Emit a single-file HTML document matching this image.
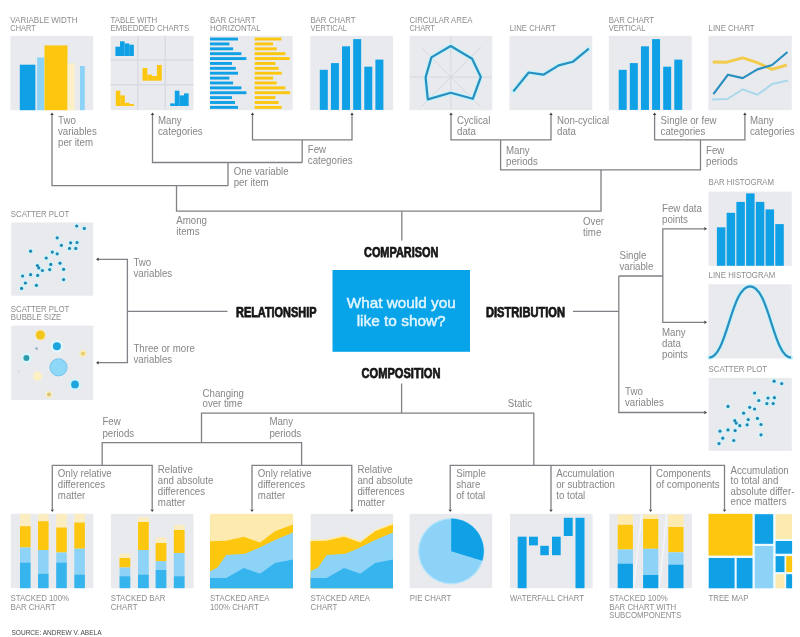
<!DOCTYPE html>
<html lang="en"><head><meta charset="utf-8"><title>Chart chooser</title>
<style>html,body{margin:0;padding:0;background:#fff;}svg{display:block;font-family:"Liberation Sans",sans-serif;filter:blur(0.45px);}</style>
</head><body>
<svg width="800" height="637" viewBox="0 0 800 637">
<rect width="800" height="637" fill="#ffffff"/>
<rect x="10.40" y="35.80" width="82.80" height="74.40" fill="#e9eaee" />
<rect x="110.70" y="35.80" width="82.80" height="74.40" fill="#e9eaee" />
<rect x="209.80" y="35.80" width="82.80" height="74.40" fill="#e9eaee" />
<rect x="310.30" y="35.80" width="82.80" height="74.40" fill="#e9eaee" />
<rect x="409.50" y="35.80" width="82.80" height="74.40" fill="#e9eaee" />
<rect x="509.50" y="35.80" width="82.80" height="74.40" fill="#e9eaee" />
<rect x="608.90" y="35.80" width="82.80" height="74.40" fill="#e9eaee" />
<rect x="708.40" y="35.80" width="83.40" height="74.40" fill="#e9eaee" />
<text x="10.3" y="23.00" font-size="8.8" fill="#8c8c8c" textLength="67.3" lengthAdjust="spacingAndGlyphs">VARIABLE WIDTH</text>
<text x="10.3" y="31.00" font-size="8.8" fill="#8c8c8c" textLength="25.5" lengthAdjust="spacingAndGlyphs">CHART</text>
<text x="110.6" y="23.00" font-size="8.8" fill="#8c8c8c" textLength="46.5" lengthAdjust="spacingAndGlyphs">TABLE WITH</text>
<text x="110.6" y="31.00" font-size="8.8" fill="#8c8c8c" textLength="78.5" lengthAdjust="spacingAndGlyphs">EMBEDDED CHARTS</text>
<text x="210.0" y="23.00" font-size="8.8" fill="#8c8c8c" textLength="45.5" lengthAdjust="spacingAndGlyphs">BAR CHART</text>
<text x="210.0" y="31.00" font-size="8.8" fill="#8c8c8c" textLength="50.7" lengthAdjust="spacingAndGlyphs">HORIZONTAL</text>
<text x="310.4" y="23.00" font-size="8.8" fill="#8c8c8c" textLength="45.2" lengthAdjust="spacingAndGlyphs">BAR CHART</text>
<text x="310.4" y="31.00" font-size="8.8" fill="#8c8c8c" textLength="36.5" lengthAdjust="spacingAndGlyphs">VERTICAL</text>
<text x="409.4" y="23.00" font-size="8.8" fill="#8c8c8c" textLength="63.0" lengthAdjust="spacingAndGlyphs">CIRCULAR AREA</text>
<text x="409.4" y="31.00" font-size="8.8" fill="#8c8c8c" textLength="25.5" lengthAdjust="spacingAndGlyphs">CHART</text>
<text x="509.8" y="31.00" font-size="8.8" fill="#8c8c8c" textLength="46.0" lengthAdjust="spacingAndGlyphs">LINE CHART</text>
<text x="608.8" y="23.00" font-size="8.8" fill="#8c8c8c" textLength="45.2" lengthAdjust="spacingAndGlyphs">BAR CHART</text>
<text x="608.8" y="31.00" font-size="8.8" fill="#8c8c8c" textLength="36.5" lengthAdjust="spacingAndGlyphs">VERTICAL</text>
<text x="708.6" y="31.00" font-size="8.8" fill="#8c8c8c" textLength="46.0" lengthAdjust="spacingAndGlyphs">LINE CHART</text>
<rect x="19.80" y="64.70" width="15.60" height="45.50" fill="#0fa0e6" />
<rect x="37.10" y="57.40" width="7.20" height="52.80" fill="#8dd3f7" />
<rect x="44.50" y="45.40" width="23.00" height="64.80" fill="#fdc70f" />
<rect x="67.70" y="63.40" width="7.00" height="46.80" fill="#fcf0c8" />
<rect x="80.00" y="66.00" width="4.80" height="44.20" fill="#8dd3f7" />
<rect x="137.20" y="35.80" width="1.20" height="74.40" fill="#d6d8e2" />
<rect x="164.60" y="35.80" width="1.20" height="74.40" fill="#d6d8e2" />
<rect x="110.70" y="59.40" width="82.80" height="1.20" fill="#d6d8e2" />
<rect x="110.70" y="84.10" width="82.80" height="1.20" fill="#d6d8e2" />
<rect x="115.40" y="46.70" width="4.65" height="9.30" fill="#0fa0e6" />
<rect x="120.00" y="41.30" width="4.65" height="14.70" fill="#0fa0e6" />
<rect x="124.60" y="43.40" width="4.65" height="12.60" fill="#0fa0e6" />
<rect x="129.20" y="44.70" width="4.65" height="11.30" fill="#0fa0e6" />
<rect x="142.50" y="68.00" width="4.85" height="12.70" fill="#fdc70f" />
<rect x="147.30" y="74.60" width="4.85" height="6.10" fill="#fdc70f" />
<rect x="152.10" y="76.00" width="4.85" height="4.70" fill="#fdc70f" />
<rect x="156.90" y="65.00" width="4.85" height="15.70" fill="#fdc70f" />
<rect x="115.80" y="90.70" width="4.55" height="15.30" fill="#fdc70f" />
<rect x="120.30" y="95.40" width="4.55" height="10.60" fill="#fdc70f" />
<rect x="124.80" y="102.80" width="4.55" height="3.20" fill="#fdc70f" />
<rect x="129.30" y="104.00" width="4.55" height="2.00" fill="#fdc70f" />
<rect x="170.20" y="103.40" width="4.65" height="2.60" fill="#0fa0e6" />
<rect x="174.80" y="90.70" width="4.65" height="15.30" fill="#0fa0e6" />
<rect x="179.40" y="95.40" width="4.65" height="10.60" fill="#0fa0e6" />
<rect x="184.00" y="93.40" width="4.65" height="12.60" fill="#0fa0e6" />
<rect x="210.00" y="37.60" width="28.00" height="2.90" fill="#0fa0e6" />
<rect x="254.70" y="37.60" width="26.70" height="2.90" fill="#fdc70f" />
<rect x="210.00" y="42.48" width="19.40" height="2.90" fill="#0fa0e6" />
<rect x="254.70" y="42.48" width="18.40" height="2.90" fill="#fdc70f" />
<rect x="210.00" y="47.36" width="23.10" height="2.90" fill="#0fa0e6" />
<rect x="254.70" y="47.36" width="22.00" height="2.90" fill="#fdc70f" />
<rect x="210.00" y="52.24" width="31.40" height="2.90" fill="#0fa0e6" />
<rect x="254.70" y="52.24" width="30.70" height="2.90" fill="#fdc70f" />
<rect x="210.00" y="57.12" width="36.40" height="2.90" fill="#0fa0e6" />
<rect x="254.70" y="57.12" width="35.00" height="2.90" fill="#fdc70f" />
<rect x="210.00" y="62.00" width="22.00" height="2.90" fill="#0fa0e6" />
<rect x="254.70" y="62.00" width="20.70" height="2.90" fill="#fdc70f" />
<rect x="210.00" y="66.88" width="25.80" height="2.90" fill="#0fa0e6" />
<rect x="254.70" y="66.88" width="24.00" height="2.90" fill="#fdc70f" />
<rect x="210.00" y="71.76" width="28.00" height="2.90" fill="#0fa0e6" />
<rect x="254.70" y="71.76" width="27.00" height="2.90" fill="#fdc70f" />
<rect x="210.00" y="76.64" width="19.40" height="2.90" fill="#0fa0e6" />
<rect x="254.70" y="76.64" width="18.40" height="2.90" fill="#fdc70f" />
<rect x="210.00" y="81.52" width="23.10" height="2.90" fill="#0fa0e6" />
<rect x="254.70" y="81.52" width="22.00" height="2.90" fill="#fdc70f" />
<rect x="210.00" y="86.40" width="31.40" height="2.90" fill="#0fa0e6" />
<rect x="254.70" y="86.40" width="30.70" height="2.90" fill="#fdc70f" />
<rect x="210.00" y="91.28" width="36.40" height="2.90" fill="#0fa0e6" />
<rect x="254.70" y="91.28" width="35.40" height="2.90" fill="#fdc70f" />
<rect x="210.00" y="96.16" width="22.00" height="2.90" fill="#0fa0e6" />
<rect x="254.70" y="96.16" width="20.70" height="2.90" fill="#fdc70f" />
<rect x="210.00" y="101.04" width="25.00" height="2.90" fill="#0fa0e6" />
<rect x="254.70" y="101.04" width="24.00" height="2.90" fill="#fdc70f" />
<rect x="210.00" y="105.92" width="28.00" height="2.90" fill="#0fa0e6" />
<rect x="254.70" y="105.92" width="27.00" height="2.90" fill="#fdc70f" />
<rect x="319.80" y="69.80" width="8.00" height="40.10" fill="#0fa0e6" />
<rect x="330.92" y="63.10" width="8.00" height="46.80" fill="#0fa0e6" />
<rect x="342.04" y="46.30" width="8.00" height="63.60" fill="#0fa0e6" />
<rect x="353.16" y="39.10" width="8.00" height="70.80" fill="#0fa0e6" />
<rect x="364.28" y="66.70" width="8.00" height="43.20" fill="#0fa0e6" />
<rect x="375.40" y="59.60" width="8.00" height="50.30" fill="#0fa0e6" />
<rect x="618.70" y="69.80" width="8.00" height="40.10" fill="#0fa0e6" />
<rect x="629.82" y="63.10" width="8.00" height="46.80" fill="#0fa0e6" />
<rect x="640.94" y="46.30" width="8.00" height="63.60" fill="#0fa0e6" />
<rect x="652.06" y="39.10" width="8.00" height="70.80" fill="#0fa0e6" />
<rect x="663.18" y="66.70" width="8.00" height="43.20" fill="#0fa0e6" />
<rect x="674.30" y="59.60" width="8.00" height="50.30" fill="#0fa0e6" />
<path d="M409.8 77.1H491.8M450.8 36.099999999999994V110.1" stroke="#d2d3db" stroke-width="0.8" fill="none" />
<path d="M420.8 47.099999999999994L480.8 107.1M480.8 47.099999999999994L420.8 107.1" stroke="#d2d3db" stroke-width="0.8" fill="none" />
<path d="M450.7 46 L472.1 58.7 L480.8 77 L472.8 98.8 L450.7 92.8 L427.8 99.4 L425.6 77.4 L431.4 57.4 Z" stroke="#c2f3fc" stroke-width="4.4" fill="none" stroke-linejoin="round" stroke-linecap="round"/>
<path d="M450.7 46 L472.1 58.7 L480.8 77 L472.8 98.8 L450.7 92.8 L427.8 99.4 L425.6 77.4 L431.4 57.4 Z" stroke="#288fbf" stroke-width="2.2" fill="none" stroke-linejoin="round"/>
<path d="M513.4 91.4 L528.7 72.5 L543.4 74.7 L558.7 65.4 L572.8 61.8 L588.8 48.7" stroke="#c2f3fc" stroke-width="4.4" fill="none" stroke-linejoin="round" stroke-linecap="round"/>
<path d="M513.4 91.4 L528.7 72.5 L543.4 74.7 L558.7 65.4 L572.8 61.8 L588.8 48.7" stroke="#288fbf" stroke-width="2.2" fill="none" stroke-linejoin="round"/>
<path d="M712 99.4 L727.4 99.0 L742.7 89.4 L757.4 94.8 L772.1 84.1 L788.1 80.5" stroke="#aad8ec" stroke-width="2.0" fill="none" stroke-linejoin="round"/>
<path d="M712.7 62 L726.7 62.2 L742.7 57.8 L757.4 62.7 L772.1 69.4 L786.8 65" stroke="#f3cb4a" stroke-width="2.9" fill="none" stroke-linejoin="round"/>
<path d="M713.4 94.1 L728 74.7 L742.7 78.1 L757.4 69.4 L772.1 65 L787.5 52" stroke="#288fbf" stroke-width="2.2" fill="none" stroke-linejoin="round"/>
<path d="M52 115.0V185.7H228" stroke="#808086" stroke-width="1.3" fill="none" />
<path d="M152.5 115.0V162.5H302.2" stroke="#808086" stroke-width="1.3" fill="none" />
<path d="M252.5 115.0V139.9H352V115.0" stroke="#808086" stroke-width="1.3" fill="none" />
<path d="M302.2 139.9V162.5" stroke="#808086" stroke-width="1.3" fill="none" />
<path d="M228 162.5V185.7" stroke="#808086" stroke-width="1.3" fill="none" />
<path d="M176.5 185.7V211.2H601V169.8" stroke="#808086" stroke-width="1.3" fill="none" />
<path d="M451 115.0V139.9H551V115.0" stroke="#808086" stroke-width="1.3" fill="none" />
<path d="M500.6 139.9V169.8H700.5V139.9" stroke="#808086" stroke-width="1.3" fill="none" />
<path d="M654.6 115.0V139.9H744.9V115.0" stroke="#808086" stroke-width="1.3" fill="none" />
<path d="M401.8 211.2V240.5" stroke="#808086" stroke-width="1.3" fill="none" />
<path d="M50.30 115.10 L52.00 112.40 L53.70 115.10 Z" fill="#3a3a3a"/>
<path d="M150.80 115.10 L152.50 112.40 L154.20 115.10 Z" fill="#3a3a3a"/>
<path d="M250.80 115.10 L252.50 112.40 L254.20 115.10 Z" fill="#3a3a3a"/>
<path d="M350.30 115.10 L352.00 112.40 L353.70 115.10 Z" fill="#3a3a3a"/>
<path d="M449.30 115.10 L451.00 112.40 L452.70 115.10 Z" fill="#3a3a3a"/>
<path d="M549.30 115.10 L551.00 112.40 L552.70 115.10 Z" fill="#3a3a3a"/>
<path d="M652.90 115.10 L654.60 112.40 L656.30 115.10 Z" fill="#3a3a3a"/>
<path d="M743.20 115.10 L744.90 112.40 L746.60 115.10 Z" fill="#3a3a3a"/>
<text x="58" y="123.90" font-size="10.2" fill="#868686" textLength="17.8" lengthAdjust="spacingAndGlyphs">Two</text>
<text x="58" y="134.80" font-size="10.2" fill="#868686" textLength="38.8" lengthAdjust="spacingAndGlyphs">variables</text>
<text x="58" y="145.70" font-size="10.2" fill="#868686" textLength="35.0" lengthAdjust="spacingAndGlyphs">per item</text>
<text x="158" y="123.90" font-size="10.2" fill="#868686" textLength="23.7" lengthAdjust="spacingAndGlyphs">Many</text>
<text x="158" y="134.80" font-size="10.2" fill="#868686" textLength="44.7" lengthAdjust="spacingAndGlyphs">categories</text>
<text x="307.8" y="153.40" font-size="10.2" fill="#868686" textLength="18.3" lengthAdjust="spacingAndGlyphs">Few</text>
<text x="307.8" y="164.30" font-size="10.2" fill="#868686" textLength="44.7" lengthAdjust="spacingAndGlyphs">categories</text>
<text x="233.7" y="175.00" font-size="10.2" fill="#868686" textLength="54.9" lengthAdjust="spacingAndGlyphs">One variable</text>
<text x="233.7" y="185.90" font-size="10.2" fill="#868686" textLength="35.0" lengthAdjust="spacingAndGlyphs">per item</text>
<text x="176.3" y="224.00" font-size="10.2" fill="#868686" textLength="30.7" lengthAdjust="spacingAndGlyphs">Among</text>
<text x="176.3" y="234.90" font-size="10.2" fill="#868686" textLength="23.2" lengthAdjust="spacingAndGlyphs">items</text>
<text x="457" y="124.20" font-size="10.2" fill="#868686" textLength="33.4" lengthAdjust="spacingAndGlyphs">Cyclical</text>
<text x="457" y="135.10" font-size="10.2" fill="#868686" textLength="18.9" lengthAdjust="spacingAndGlyphs">data</text>
<text x="557" y="124.20" font-size="10.2" fill="#868686" textLength="52.2" lengthAdjust="spacingAndGlyphs">Non-cyclical</text>
<text x="557" y="135.10" font-size="10.2" fill="#868686" textLength="18.9" lengthAdjust="spacingAndGlyphs">data</text>
<text x="506" y="153.70" font-size="10.2" fill="#868686" textLength="23.7" lengthAdjust="spacingAndGlyphs">Many</text>
<text x="506" y="164.60" font-size="10.2" fill="#868686" textLength="31.8" lengthAdjust="spacingAndGlyphs">periods</text>
<text x="583" y="224.60" font-size="10.2" fill="#868686" textLength="21.0" lengthAdjust="spacingAndGlyphs">Over</text>
<text x="583" y="235.50" font-size="10.2" fill="#868686" textLength="18.3" lengthAdjust="spacingAndGlyphs">time</text>
<text x="660.6" y="124.20" font-size="10.2" fill="#868686" textLength="56.0" lengthAdjust="spacingAndGlyphs">Single or few</text>
<text x="660.6" y="135.10" font-size="10.2" fill="#868686" textLength="44.7" lengthAdjust="spacingAndGlyphs">categories</text>
<text x="750" y="124.20" font-size="10.2" fill="#868686" textLength="23.7" lengthAdjust="spacingAndGlyphs">Many</text>
<text x="750" y="135.10" font-size="10.2" fill="#868686" textLength="44.7" lengthAdjust="spacingAndGlyphs">categories</text>
<text x="706" y="153.80" font-size="10.2" fill="#868686" textLength="18.3" lengthAdjust="spacingAndGlyphs">Few</text>
<text x="706" y="164.70" font-size="10.2" fill="#868686" textLength="31.8" lengthAdjust="spacingAndGlyphs">periods</text>
<rect x="332.50" y="270.00" width="137.50" height="81.80" fill="#08a4e9" />
<text x="401.2" y="308" font-size="15" fill="#e2f5ff" stroke="#e2f5ff" stroke-width="0.45" text-anchor="middle" textLength="109" lengthAdjust="spacingAndGlyphs">What would you</text>
<text x="401.2" y="326" font-size="15" fill="#e2f5ff" stroke="#e2f5ff" stroke-width="0.45" text-anchor="middle" textLength="89" lengthAdjust="spacingAndGlyphs">like to show?</text>
<text x="364.0" y="257.3" font-size="13.8" font-weight="bold" fill="#161616" stroke="#161616" stroke-width="0.75" textLength="74.4" lengthAdjust="spacingAndGlyphs">COMPARISON</text>
<text x="236" y="316.8" font-size="13.8" font-weight="bold" fill="#161616" stroke="#161616" stroke-width="0.75" textLength="80.5" lengthAdjust="spacingAndGlyphs">RELATIONSHIP</text>
<text x="486" y="316.6" font-size="13.8" font-weight="bold" fill="#161616" stroke="#161616" stroke-width="0.75" textLength="79" lengthAdjust="spacingAndGlyphs">DISTRIBUTION</text>
<text x="361.5" y="377.7" font-size="13.8" font-weight="bold" fill="#161616" stroke="#161616" stroke-width="0.75" textLength="79" lengthAdjust="spacingAndGlyphs">COMPOSITION</text>
<text x="10.8" y="217.30" font-size="8.8" fill="#8c8c8c" textLength="58.5" lengthAdjust="spacingAndGlyphs">SCATTER PLOT</text>
<rect x="11.20" y="222.50" width="82.00" height="73.20" fill="#e9eaee" />
<circle cx="76.7" cy="226.0" r="2.9" fill="#d0f3fa"/>
<circle cx="84.3" cy="228.4" r="2.9" fill="#d0f3fa"/>
<circle cx="57.2" cy="237.8" r="2.9" fill="#d0f3fa"/>
<circle cx="70.6" cy="242.8" r="2.9" fill="#d0f3fa"/>
<circle cx="77.0" cy="242.5" r="2.9" fill="#d0f3fa"/>
<circle cx="61.4" cy="245.3" r="2.9" fill="#d0f3fa"/>
<circle cx="69.5" cy="248.4" r="2.9" fill="#d0f3fa"/>
<circle cx="75.8" cy="248.4" r="2.9" fill="#d0f3fa"/>
<circle cx="30.6" cy="251.2" r="2.9" fill="#d0f3fa"/>
<circle cx="52.3" cy="252.1" r="2.9" fill="#d0f3fa"/>
<circle cx="57.2" cy="253.8" r="2.9" fill="#d0f3fa"/>
<circle cx="46.2" cy="258.0" r="2.9" fill="#d0f3fa"/>
<circle cx="60.0" cy="263.2" r="2.9" fill="#d0f3fa"/>
<circle cx="50.8" cy="264.4" r="2.9" fill="#d0f3fa"/>
<circle cx="37.4" cy="265.5" r="2.9" fill="#d0f3fa"/>
<circle cx="38.8" cy="267.9" r="2.9" fill="#d0f3fa"/>
<circle cx="42.4" cy="270.5" r="2.9" fill="#d0f3fa"/>
<circle cx="49.7" cy="269.6" r="2.9" fill="#d0f3fa"/>
<circle cx="63.6" cy="269.3" r="2.9" fill="#d0f3fa"/>
<circle cx="30.6" cy="274.7" r="2.9" fill="#d0f3fa"/>
<circle cx="37.7" cy="275.4" r="2.9" fill="#d0f3fa"/>
<circle cx="22.6" cy="276.0" r="2.9" fill="#d0f3fa"/>
<circle cx="63.6" cy="279.6" r="2.9" fill="#d0f3fa"/>
<circle cx="25.4" cy="283.0" r="2.9" fill="#d0f3fa"/>
<circle cx="36.4" cy="285.3" r="2.9" fill="#d0f3fa"/>
<circle cx="21.6" cy="288.4" r="2.9" fill="#d0f3fa"/>
<circle cx="76.7" cy="226.0" r="1.6" fill="#2086b0"/>
<circle cx="84.3" cy="228.4" r="1.6" fill="#2086b0"/>
<circle cx="57.2" cy="237.8" r="1.6" fill="#2086b0"/>
<circle cx="70.6" cy="242.8" r="1.6" fill="#2086b0"/>
<circle cx="77.0" cy="242.5" r="1.6" fill="#2086b0"/>
<circle cx="61.4" cy="245.3" r="1.6" fill="#2086b0"/>
<circle cx="69.5" cy="248.4" r="1.6" fill="#2086b0"/>
<circle cx="75.8" cy="248.4" r="1.6" fill="#2086b0"/>
<circle cx="30.6" cy="251.2" r="1.6" fill="#2086b0"/>
<circle cx="52.3" cy="252.1" r="1.6" fill="#2086b0"/>
<circle cx="57.2" cy="253.8" r="1.6" fill="#2086b0"/>
<circle cx="46.2" cy="258.0" r="1.6" fill="#2086b0"/>
<circle cx="60.0" cy="263.2" r="1.6" fill="#2086b0"/>
<circle cx="50.8" cy="264.4" r="1.6" fill="#2086b0"/>
<circle cx="37.4" cy="265.5" r="1.6" fill="#2086b0"/>
<circle cx="38.8" cy="267.9" r="1.6" fill="#2086b0"/>
<circle cx="42.4" cy="270.5" r="1.6" fill="#2086b0"/>
<circle cx="49.7" cy="269.6" r="1.6" fill="#2086b0"/>
<circle cx="63.6" cy="269.3" r="1.6" fill="#2086b0"/>
<circle cx="30.6" cy="274.7" r="1.6" fill="#2086b0"/>
<circle cx="37.7" cy="275.4" r="1.6" fill="#2086b0"/>
<circle cx="22.6" cy="276.0" r="1.6" fill="#2086b0"/>
<circle cx="63.6" cy="279.6" r="1.6" fill="#2086b0"/>
<circle cx="25.4" cy="283.0" r="1.6" fill="#2086b0"/>
<circle cx="36.4" cy="285.3" r="1.6" fill="#2086b0"/>
<circle cx="21.6" cy="288.4" r="1.6" fill="#2086b0"/>
<text x="10.8" y="311.60" font-size="8.8" fill="#8c8c8c" textLength="58.5" lengthAdjust="spacingAndGlyphs">SCATTER PLOT</text>
<text x="10.8" y="320.20" font-size="8.8" fill="#8c8c8c" textLength="50.4" lengthAdjust="spacingAndGlyphs">BUBBLE SIZE</text>
<rect x="11.20" y="325.60" width="82.00" height="74.40" fill="#e9eaee" />
<circle cx="40.4" cy="335" r="5.6" fill="#fdeaae"/>
<circle cx="40.4" cy="335" r="4.5" fill="#f2c51c"/>
<circle cx="56.9" cy="346.2" r="6.4" fill="#e2f7fe"/>
<circle cx="56.9" cy="346.2" r="4.0" fill="#1fa5de"/>
<circle cx="36.6" cy="348.6" r="1.4" fill="#8cb4cc"/>
<circle cx="26.4" cy="358" r="5.4" fill="#d9f5fb"/>
<circle cx="26.4" cy="358" r="3.0" fill="#2f9cae"/>
<circle cx="83" cy="353.6" r="3.5" fill="#fdeaae"/>
<circle cx="83" cy="353.6" r="1.9" fill="#e3cc74"/>
<circle cx="58.5" cy="367.3" r="8.6" fill="#8fd7f7" stroke="#74c6ee" stroke-width="1"/>
<circle cx="37.6" cy="376.2" r="4.6" fill="#fbefc4"/>
<circle cx="18.6" cy="371.4" r="1.4" fill="#dcdde6"/>
<circle cx="75" cy="384.4" r="6.0" fill="#d4f4fd"/>
<circle cx="75" cy="384.4" r="3.9" fill="#1fa5de"/>
<circle cx="49" cy="394.5" r="3.6" fill="#fbeec0"/>
<circle cx="49" cy="394.5" r="2.0" fill="#d8c178"/>
<path d="M98.5 259.3H127.4V362.7H98.5" stroke="#808086" stroke-width="1.3" fill="none" />
<path d="M127.4 311.4H227.5" stroke="#808086" stroke-width="1.3" fill="none" />
<path d="M98.70 257.60 L96.00 259.30 L98.70 261.00 Z" fill="#3a3a3a"/>
<path d="M98.70 361.00 L96.00 362.70 L98.70 364.40 Z" fill="#3a3a3a"/>
<text x="133.4" y="266.00" font-size="10.2" fill="#868686" textLength="17.8" lengthAdjust="spacingAndGlyphs">Two</text>
<text x="133.4" y="276.90" font-size="10.2" fill="#868686" textLength="38.8" lengthAdjust="spacingAndGlyphs">variables</text>
<text x="133.4" y="351.60" font-size="10.2" fill="#868686" textLength="61.4" lengthAdjust="spacingAndGlyphs">Three or more</text>
<text x="133.4" y="362.50" font-size="10.2" fill="#868686" textLength="38.8" lengthAdjust="spacingAndGlyphs">variables</text>
<text x="708.6" y="185.20" font-size="8.8" fill="#8c8c8c" textLength="65.4" lengthAdjust="spacingAndGlyphs">BAR HISTOGRAM</text>
<rect x="708.50" y="191.60" width="83.20" height="74.30" fill="#e9eaee" />
<rect x="716.90" y="227.30" width="8.50" height="38.50" fill="#0fa0e6" />
<rect x="726.63" y="212.80" width="8.50" height="53.00" fill="#0fa0e6" />
<rect x="736.36" y="201.90" width="8.50" height="63.90" fill="#0fa0e6" />
<rect x="746.09" y="193.40" width="8.50" height="72.40" fill="#0fa0e6" />
<rect x="755.82" y="201.90" width="8.50" height="63.90" fill="#0fa0e6" />
<rect x="765.55" y="209.40" width="8.50" height="56.40" fill="#0fa0e6" />
<rect x="775.28" y="224.10" width="8.50" height="41.70" fill="#0fa0e6" />
<text x="708.6" y="278.30" font-size="8.8" fill="#8c8c8c" textLength="66.7" lengthAdjust="spacingAndGlyphs">LINE HISTOGRAM</text>
<rect x="708.50" y="284.30" width="83.20" height="74.20" fill="#e9eaee" />
<path d="M709.2 357.6 C 727 357.6, 731 286.3, 750.1 286.3 C 769.2 286.3, 773.2 357.6, 791.1 357.6" stroke="#c2f3fc" stroke-width="4.4" fill="none" stroke-linejoin="round" stroke-linecap="round"/>
<path d="M709.2 357.6 C 727 357.6, 731 286.3, 750.1 286.3 C 769.2 286.3, 773.2 357.6, 791.1 357.6" stroke="#288fbf" stroke-width="2.2" fill="none" stroke-linejoin="round"/>
<text x="708.6" y="372.20" font-size="8.8" fill="#8c8c8c" textLength="58.5" lengthAdjust="spacingAndGlyphs">SCATTER PLOT</text>
<rect x="708.60" y="377.80" width="83.20" height="73.00" fill="#e9eaee" />
<circle cx="774.1" cy="381.2" r="2.9" fill="#d0f3fa"/>
<circle cx="781.7" cy="383.6" r="2.9" fill="#d0f3fa"/>
<circle cx="754.6" cy="393.0" r="2.9" fill="#d0f3fa"/>
<circle cx="768.0" cy="398.0" r="2.9" fill="#d0f3fa"/>
<circle cx="774.4" cy="397.7" r="2.9" fill="#d0f3fa"/>
<circle cx="758.8" cy="400.5" r="2.9" fill="#d0f3fa"/>
<circle cx="766.9" cy="403.6" r="2.9" fill="#d0f3fa"/>
<circle cx="773.2" cy="403.6" r="2.9" fill="#d0f3fa"/>
<circle cx="728.0" cy="406.4" r="2.9" fill="#d0f3fa"/>
<circle cx="749.7" cy="407.3" r="2.9" fill="#d0f3fa"/>
<circle cx="754.6" cy="409.0" r="2.9" fill="#d0f3fa"/>
<circle cx="743.6" cy="413.2" r="2.9" fill="#d0f3fa"/>
<circle cx="757.4" cy="418.4" r="2.9" fill="#d0f3fa"/>
<circle cx="748.2" cy="419.6" r="2.9" fill="#d0f3fa"/>
<circle cx="734.8" cy="420.7" r="2.9" fill="#d0f3fa"/>
<circle cx="736.2" cy="423.1" r="2.9" fill="#d0f3fa"/>
<circle cx="739.8" cy="425.7" r="2.9" fill="#d0f3fa"/>
<circle cx="747.1" cy="424.8" r="2.9" fill="#d0f3fa"/>
<circle cx="761.0" cy="424.5" r="2.9" fill="#d0f3fa"/>
<circle cx="728.0" cy="429.9" r="2.9" fill="#d0f3fa"/>
<circle cx="735.1" cy="430.6" r="2.9" fill="#d0f3fa"/>
<circle cx="720.0" cy="431.2" r="2.9" fill="#d0f3fa"/>
<circle cx="761.0" cy="434.8" r="2.9" fill="#d0f3fa"/>
<circle cx="722.8" cy="438.2" r="2.9" fill="#d0f3fa"/>
<circle cx="733.8" cy="440.5" r="2.9" fill="#d0f3fa"/>
<circle cx="719.0" cy="443.6" r="2.9" fill="#d0f3fa"/>
<circle cx="774.1" cy="381.2" r="1.6" fill="#2086b0"/>
<circle cx="781.7" cy="383.6" r="1.6" fill="#2086b0"/>
<circle cx="754.6" cy="393.0" r="1.6" fill="#2086b0"/>
<circle cx="768.0" cy="398.0" r="1.6" fill="#2086b0"/>
<circle cx="774.4" cy="397.7" r="1.6" fill="#2086b0"/>
<circle cx="758.8" cy="400.5" r="1.6" fill="#2086b0"/>
<circle cx="766.9" cy="403.6" r="1.6" fill="#2086b0"/>
<circle cx="773.2" cy="403.6" r="1.6" fill="#2086b0"/>
<circle cx="728.0" cy="406.4" r="1.6" fill="#2086b0"/>
<circle cx="749.7" cy="407.3" r="1.6" fill="#2086b0"/>
<circle cx="754.6" cy="409.0" r="1.6" fill="#2086b0"/>
<circle cx="743.6" cy="413.2" r="1.6" fill="#2086b0"/>
<circle cx="757.4" cy="418.4" r="1.6" fill="#2086b0"/>
<circle cx="748.2" cy="419.6" r="1.6" fill="#2086b0"/>
<circle cx="734.8" cy="420.7" r="1.6" fill="#2086b0"/>
<circle cx="736.2" cy="423.1" r="1.6" fill="#2086b0"/>
<circle cx="739.8" cy="425.7" r="1.6" fill="#2086b0"/>
<circle cx="747.1" cy="424.8" r="1.6" fill="#2086b0"/>
<circle cx="761.0" cy="424.5" r="1.6" fill="#2086b0"/>
<circle cx="728.0" cy="429.9" r="1.6" fill="#2086b0"/>
<circle cx="735.1" cy="430.6" r="1.6" fill="#2086b0"/>
<circle cx="720.0" cy="431.2" r="1.6" fill="#2086b0"/>
<circle cx="761.0" cy="434.8" r="1.6" fill="#2086b0"/>
<circle cx="722.8" cy="438.2" r="1.6" fill="#2086b0"/>
<circle cx="733.8" cy="440.5" r="1.6" fill="#2086b0"/>
<circle cx="719.0" cy="443.6" r="1.6" fill="#2086b0"/>
<path d="M573 311.4H618.8" stroke="#808086" stroke-width="1.3" fill="none" />
<path d="M618.8 276H662.8" stroke="#808086" stroke-width="1.3" fill="none" />
<path d="M618.8 276V412.5H704" stroke="#808086" stroke-width="1.3" fill="none" />
<path d="M704 228.8H662.8V322.3H704" stroke="#808086" stroke-width="1.3" fill="none" />
<path d="M704.30 227.10 L707.00 228.80 L704.30 230.50 Z" fill="#3a3a3a"/>
<path d="M704.30 320.60 L707.00 322.30 L704.30 324.00 Z" fill="#3a3a3a"/>
<path d="M704.30 410.80 L707.00 412.50 L704.30 414.20 Z" fill="#3a3a3a"/>
<text x="662" y="211.60" font-size="10.2" fill="#868686" textLength="39.9" lengthAdjust="spacingAndGlyphs">Few data</text>
<text x="662" y="222.50" font-size="10.2" fill="#868686" textLength="25.9" lengthAdjust="spacingAndGlyphs">points</text>
<text x="619.5" y="258.90" font-size="10.2" fill="#868686" textLength="26.9" lengthAdjust="spacingAndGlyphs">Single</text>
<text x="619.5" y="269.80" font-size="10.2" fill="#868686" textLength="33.9" lengthAdjust="spacingAndGlyphs">variable</text>
<text x="662" y="336.40" font-size="10.2" fill="#868686" textLength="23.7" lengthAdjust="spacingAndGlyphs">Many</text>
<text x="662" y="347.30" font-size="10.2" fill="#868686" textLength="18.9" lengthAdjust="spacingAndGlyphs">data</text>
<text x="662" y="358.20" font-size="10.2" fill="#868686" textLength="25.9" lengthAdjust="spacingAndGlyphs">points</text>
<text x="625" y="394.60" font-size="10.2" fill="#868686" textLength="17.8" lengthAdjust="spacingAndGlyphs">Two</text>
<text x="625" y="406.00" font-size="10.2" fill="#868686" textLength="38.8" lengthAdjust="spacingAndGlyphs">variables</text>
<path d="M401.6 383.5V413.2" stroke="#808086" stroke-width="1.3" fill="none" />
<path d="M201.5 442.6V413.2H533.8V465.3" stroke="#808086" stroke-width="1.3" fill="none" />
<path d="M102.2 465.3V442.6H301.6V465.3" stroke="#808086" stroke-width="1.3" fill="none" />
<path d="M52.3 509.0V465.3H152.2V509.0" stroke="#808086" stroke-width="1.3" fill="none" />
<path d="M252.0 509.0V465.3H351.8V509.0" stroke="#808086" stroke-width="1.3" fill="none" />
<path d="M450.2 509.0V465.3H724.5V509.0" stroke="#808086" stroke-width="1.3" fill="none" />
<path d="M551 465.3V509.0M650.6 465.3V509.0" stroke="#808086" stroke-width="1.3" fill="none" />
<path d="M50.60 509.40 L52.30 512.10 L54.00 509.40 Z" fill="#3a3a3a"/>
<path d="M150.50 509.40 L152.20 512.10 L153.90 509.40 Z" fill="#3a3a3a"/>
<path d="M250.30 509.40 L252.00 512.10 L253.70 509.40 Z" fill="#3a3a3a"/>
<path d="M350.10 509.40 L351.80 512.10 L353.50 509.40 Z" fill="#3a3a3a"/>
<path d="M448.50 509.40 L450.20 512.10 L451.90 509.40 Z" fill="#3a3a3a"/>
<path d="M549.30 509.40 L551.00 512.10 L552.70 509.40 Z" fill="#3a3a3a"/>
<path d="M648.90 509.40 L650.60 512.10 L652.30 509.40 Z" fill="#3a3a3a"/>
<path d="M722.80 509.40 L724.50 512.10 L726.20 509.40 Z" fill="#3a3a3a"/>
<text x="202.5" y="396.80" font-size="10.2" fill="#868686" textLength="41.5" lengthAdjust="spacingAndGlyphs">Changing</text>
<text x="202.5" y="407.10" font-size="10.2" fill="#868686" textLength="39.8" lengthAdjust="spacingAndGlyphs">over time</text>
<text x="507.8" y="406.60" font-size="10.2" fill="#868686" textLength="24.2" lengthAdjust="spacingAndGlyphs">Static</text>
<text x="102.4" y="425.30" font-size="10.2" fill="#868686" textLength="18.3" lengthAdjust="spacingAndGlyphs">Few</text>
<text x="102.4" y="436.50" font-size="10.2" fill="#868686" textLength="31.8" lengthAdjust="spacingAndGlyphs">periods</text>
<text x="269.4" y="425.30" font-size="10.2" fill="#868686" textLength="23.7" lengthAdjust="spacingAndGlyphs">Many</text>
<text x="269.4" y="436.50" font-size="10.2" fill="#868686" textLength="31.8" lengthAdjust="spacingAndGlyphs">periods</text>
<text x="57.8" y="477.40" font-size="10.2" fill="#868686" textLength="53.9" lengthAdjust="spacingAndGlyphs">Only relative</text>
<text x="57.8" y="488.40" font-size="10.2" fill="#868686" textLength="47.2" lengthAdjust="spacingAndGlyphs">differences</text>
<text x="57.8" y="499.40" font-size="10.2" fill="#868686" textLength="27.5" lengthAdjust="spacingAndGlyphs">matter</text>
<text x="157.8" y="473.00" font-size="10.2" fill="#868686" textLength="35.0" lengthAdjust="spacingAndGlyphs">Relative</text>
<text x="157.8" y="484.10" font-size="10.2" fill="#868686" textLength="55.5" lengthAdjust="spacingAndGlyphs">and absolute</text>
<text x="157.8" y="495.20" font-size="10.2" fill="#868686" textLength="47.2" lengthAdjust="spacingAndGlyphs">differences</text>
<text x="157.8" y="506.30" font-size="10.2" fill="#868686" textLength="27.5" lengthAdjust="spacingAndGlyphs">matter</text>
<text x="257.8" y="477.40" font-size="10.2" fill="#868686" textLength="53.9" lengthAdjust="spacingAndGlyphs">Only relative</text>
<text x="257.8" y="488.40" font-size="10.2" fill="#868686" textLength="47.2" lengthAdjust="spacingAndGlyphs">differences</text>
<text x="257.8" y="499.40" font-size="10.2" fill="#868686" textLength="27.5" lengthAdjust="spacingAndGlyphs">matter</text>
<text x="357.4" y="473.00" font-size="10.2" fill="#868686" textLength="35.0" lengthAdjust="spacingAndGlyphs">Relative</text>
<text x="357.4" y="484.10" font-size="10.2" fill="#868686" textLength="55.5" lengthAdjust="spacingAndGlyphs">and absolute</text>
<text x="357.4" y="495.20" font-size="10.2" fill="#868686" textLength="47.2" lengthAdjust="spacingAndGlyphs">differences</text>
<text x="357.4" y="506.30" font-size="10.2" fill="#868686" textLength="27.5" lengthAdjust="spacingAndGlyphs">matter</text>
<text x="456.2" y="477.00" font-size="10.2" fill="#868686" textLength="29.6" lengthAdjust="spacingAndGlyphs">Simple</text>
<text x="456.2" y="488.00" font-size="10.2" fill="#868686" textLength="24.2" lengthAdjust="spacingAndGlyphs">share</text>
<text x="456.2" y="499.00" font-size="10.2" fill="#868686" textLength="29.1" lengthAdjust="spacingAndGlyphs">of total</text>
<text x="556.2" y="477.00" font-size="10.2" fill="#868686" textLength="58.2" lengthAdjust="spacingAndGlyphs">Accumulation</text>
<text x="556.2" y="488.00" font-size="10.2" fill="#868686" textLength="58.7" lengthAdjust="spacingAndGlyphs">or subtraction</text>
<text x="556.2" y="499.00" font-size="10.2" fill="#868686" textLength="29.1" lengthAdjust="spacingAndGlyphs">to total</text>
<text x="656" y="477.00" font-size="10.2" fill="#868686" textLength="54.9" lengthAdjust="spacingAndGlyphs">Components</text>
<text x="656" y="488.00" font-size="10.2" fill="#868686" textLength="63.6" lengthAdjust="spacingAndGlyphs">of components</text>
<text x="730.5" y="473.60" font-size="10.2" fill="#868686" textLength="58.2" lengthAdjust="spacingAndGlyphs">Accumulation</text>
<text x="730.5" y="484.20" font-size="10.2" fill="#868686" textLength="47.9" lengthAdjust="spacingAndGlyphs">to total and</text>
<text x="730.5" y="494.80" font-size="10.2" fill="#868686" textLength="63.9" lengthAdjust="spacingAndGlyphs">absolute differ-</text>
<text x="730.5" y="505.40" font-size="10.2" fill="#868686" textLength="56.0" lengthAdjust="spacingAndGlyphs">ence matters</text>
<rect x="10.80" y="513.80" width="82.60" height="74.40" fill="#e9eaee" />
<rect x="110.90" y="513.80" width="82.60" height="74.40" fill="#e9eaee" />
<rect x="310.60" y="513.80" width="82.60" height="74.40" fill="#e9eaee" />
<rect x="409.60" y="513.80" width="82.60" height="74.40" fill="#e9eaee" />
<rect x="510.00" y="513.80" width="82.60" height="74.40" fill="#e9eaee" />
<rect x="609.30" y="513.80" width="82.60" height="74.40" fill="#e9eaee" />
<rect x="20.00" y="513.80" width="10.60" height="12.40" fill="#fbedc0" />
<rect x="20.00" y="526.20" width="10.60" height="21.30" fill="#fdc70f" />
<rect x="20.00" y="547.50" width="10.60" height="15.00" fill="#8dd3f7" />
<rect x="20.00" y="562.50" width="10.60" height="25.70" fill="#36b4ee" />
<rect x="38.00" y="513.80" width="10.60" height="7.40" fill="#fbedc0" />
<rect x="38.00" y="521.20" width="10.60" height="28.80" fill="#fdc70f" />
<rect x="38.00" y="550.00" width="10.60" height="23.70" fill="#8dd3f7" />
<rect x="38.00" y="573.70" width="10.60" height="14.50" fill="#36b4ee" />
<rect x="56.20" y="513.80" width="10.60" height="13.70" fill="#fbedc0" />
<rect x="56.20" y="527.50" width="10.60" height="25.00" fill="#fdc70f" />
<rect x="56.20" y="552.50" width="10.60" height="10.00" fill="#8dd3f7" />
<rect x="56.20" y="562.50" width="10.60" height="25.70" fill="#36b4ee" />
<rect x="74.30" y="513.80" width="10.60" height="8.70" fill="#fbedc0" />
<rect x="74.30" y="522.50" width="10.60" height="26.20" fill="#fdc70f" />
<rect x="74.30" y="548.70" width="10.60" height="25.80" fill="#8dd3f7" />
<rect x="74.30" y="574.50" width="10.60" height="13.70" fill="#36b4ee" />
<rect x="119.50" y="553.70" width="10.80" height="4.30" fill="#fbedc0" />
<rect x="119.50" y="558.00" width="10.80" height="9.50" fill="#fdc70f" />
<rect x="119.50" y="567.50" width="10.80" height="8.70" fill="#8dd3f7" />
<rect x="119.50" y="576.20" width="10.80" height="12.00" fill="#36b4ee" />
<rect x="138.00" y="517.00" width="10.80" height="5.00" fill="#fbedc0" />
<rect x="138.00" y="522.00" width="10.80" height="28.00" fill="#fdc70f" />
<rect x="138.00" y="550.00" width="10.80" height="24.50" fill="#8dd3f7" />
<rect x="138.00" y="574.50" width="10.80" height="13.70" fill="#36b4ee" />
<rect x="155.60" y="537.50" width="10.80" height="5.50" fill="#fbedc0" />
<rect x="155.60" y="543.00" width="10.80" height="18.20" fill="#fdc70f" />
<rect x="155.60" y="561.20" width="10.80" height="8.80" fill="#8dd3f7" />
<rect x="155.60" y="570.00" width="10.80" height="18.20" fill="#36b4ee" />
<rect x="173.80" y="525.00" width="10.80" height="5.00" fill="#fbedc0" />
<rect x="173.80" y="530.00" width="10.80" height="23.00" fill="#fdc70f" />
<rect x="173.80" y="553.00" width="10.80" height="23.20" fill="#8dd3f7" />
<rect x="173.80" y="576.20" width="10.80" height="12.00" fill="#36b4ee" />
<rect x="210.00" y="513.80" width="83.00" height="74.40" fill="#fdeaae" />
<path d="M210.00 541.20 L226.20 540.70 L243.70 536.70 L260.00 542.50 L275.00 531.20 L293.00 524.50 L293.00 588.20 L210.00 588.20 Z" fill="#fdc70f"/>
<path d="M210.00 571.20 L217.50 567.50 L226.20 555.00 L245.00 553.70 L258.70 548.00 L275.00 540.00 L293.00 532.50 L293.00 588.20 L210.00 588.20 Z" fill="#8dd3f7"/>
<path d="M210.00 578.00 L226.20 578.00 L243.70 568.00 L260.00 573.70 L275.00 563.00 L293.00 559.50 L293.00 588.20 L210.00 588.20 Z" fill="#36b4ee"/>
<path d="M310.60 539.40 L326.68 538.90 L344.06 534.90 L360.24 540.70 L375.13 529.40 L393.00 522.70 L393.00 588.20 L310.60 588.20 Z" fill="#fdeaae"/>
<path d="M310.60 541.20 L326.68 540.70 L344.06 536.70 L360.24 542.50 L375.13 531.20 L393.00 524.50 L393.00 588.20 L310.60 588.20 Z" fill="#fdc70f"/>
<path d="M310.60 571.20 L318.05 567.50 L326.68 555.00 L345.35 553.70 L358.95 548.00 L375.13 540.00 L393.00 532.50 L393.00 588.20 L310.60 588.20 Z" fill="#8dd3f7"/>
<path d="M310.60 578.00 L326.68 578.00 L344.06 568.00 L360.24 573.70 L375.13 563.00 L393.00 559.50 L393.00 588.20 L310.60 588.20 Z" fill="#36b4ee"/>
<circle cx="451.2" cy="551.2" r="33.2" fill="#b5e4fb"/>
<circle cx="451.2" cy="551.2" r="31.900000000000002" fill="#8dd3f7"/>
<path d="M451.2 551.2 L451.2 518.6 A32.6 32.6 0 0 1 482.38 560.73 Z" fill="#0fa0e6"/>
<rect x="517.70" y="536.70" width="8.90" height="51.50" fill="#0fa0e6" />
<rect x="529.00" y="536.70" width="8.90" height="8.70" fill="#0fa0e6" />
<rect x="540.30" y="545.80" width="8.50" height="9.40" fill="#0fa0e6" />
<rect x="552.00" y="536.70" width="8.70" height="18.50" fill="#0fa0e6" />
<rect x="563.80" y="517.80" width="8.90" height="18.20" fill="#0fa0e6" />
<rect x="575.50" y="517.80" width="9.00" height="70.40" fill="#0fa0e6" />
<path d="M641.6 514.5L633.6 588" stroke="#f6f7fa" stroke-width="1.4" fill="none" />
<path d="M666.8 514.5L659.2 588" stroke="#f6f7fa" stroke-width="1.4" fill="none" />
<rect x="617.70" y="514.60" width="15.20" height="10.20" fill="#fdeaae" />
<rect x="617.70" y="524.80" width="15.20" height="24.70" fill="#fdc70f" />
<rect x="617.70" y="549.50" width="15.20" height="14.10" fill="#8dd3f7" />
<rect x="617.70" y="563.60" width="15.20" height="24.60" fill="#0fa0e6" />
<rect x="643.10" y="514.60" width="15.20" height="4.40" fill="#fdeaae" />
<rect x="643.10" y="519.00" width="15.20" height="29.80" fill="#fdc70f" />
<rect x="643.10" y="548.80" width="15.20" height="26.20" fill="#8dd3f7" />
<rect x="643.10" y="575.00" width="15.20" height="13.20" fill="#0fa0e6" />
<rect x="668.30" y="514.60" width="15.20" height="12.40" fill="#fdeaae" />
<rect x="668.30" y="527.00" width="15.20" height="25.30" fill="#fdc70f" />
<rect x="668.30" y="552.30" width="15.20" height="12.30" fill="#8dd3f7" />
<rect x="668.30" y="564.60" width="15.20" height="23.60" fill="#0fa0e6" />
<rect x="708.50" y="513.80" width="83.60" height="74.40" fill="#eefaff" />
<rect x="708.50" y="513.80" width="44.00" height="41.80" fill="#fdc70f" />
<rect x="708.70" y="558.00" width="25.90" height="30.30" fill="#0fa0e6" />
<rect x="736.70" y="558.00" width="15.80" height="30.30" fill="#0fa0e6" />
<rect x="754.80" y="514.20" width="18.40" height="29.60" fill="#0fa0e6" />
<rect x="754.80" y="546.00" width="18.40" height="42.30" fill="#8dd3f7" />
<rect x="775.60" y="514.20" width="16.50" height="24.70" fill="#fdeaae" />
<rect x="775.60" y="541.00" width="16.50" height="12.70" fill="#0fa0e6" />
<rect x="775.60" y="556.10" width="8.90" height="16.00" fill="#0fa0e6" />
<rect x="786.20" y="556.10" width="5.90" height="16.00" fill="#fdc70f" />
<rect x="775.60" y="574.20" width="8.90" height="14.10" fill="#fdeaae" />
<rect x="786.20" y="574.20" width="5.90" height="14.10" fill="#0fa0e6" />
<text x="10.5" y="601.00" font-size="8.8" fill="#8c8c8c" textLength="58.5" lengthAdjust="spacingAndGlyphs">STACKED 100%</text>
<text x="10.5" y="609.50" font-size="8.8" fill="#8c8c8c" textLength="45.0" lengthAdjust="spacingAndGlyphs">BAR CHART</text>
<text x="110.7" y="601.00" font-size="8.8" fill="#8c8c8c" textLength="54.6" lengthAdjust="spacingAndGlyphs">STACKED BAR</text>
<text x="110.7" y="609.50" font-size="8.8" fill="#8c8c8c" textLength="26.8" lengthAdjust="spacingAndGlyphs">CHART</text>
<text x="210.0" y="601.00" font-size="8.8" fill="#8c8c8c" textLength="59.4" lengthAdjust="spacingAndGlyphs">STACKED AREA</text>
<text x="210.0" y="609.50" font-size="8.8" fill="#8c8c8c" textLength="48.9" lengthAdjust="spacingAndGlyphs">100% CHART</text>
<text x="310.6" y="601.00" font-size="8.8" fill="#8c8c8c" textLength="59.4" lengthAdjust="spacingAndGlyphs">STACKED AREA</text>
<text x="310.6" y="609.50" font-size="8.8" fill="#8c8c8c" textLength="26.8" lengthAdjust="spacingAndGlyphs">CHART</text>
<text x="409.8" y="601.00" font-size="8.8" fill="#8c8c8c" textLength="41.5" lengthAdjust="spacingAndGlyphs">PIE CHART</text>
<text x="510.0" y="601.00" font-size="8.8" fill="#8c8c8c" textLength="74.0" lengthAdjust="spacingAndGlyphs">WATERFALL CHART</text>
<text x="609.2" y="601.00" font-size="8.8" fill="#8c8c8c" textLength="58.5" lengthAdjust="spacingAndGlyphs">STACKED 100%</text>
<text x="609.2" y="609.50" font-size="8.8" fill="#8c8c8c" textLength="67.0" lengthAdjust="spacingAndGlyphs">BAR CHART WITH</text>
<text x="609.2" y="618.00" font-size="8.8" fill="#8c8c8c" textLength="72.1" lengthAdjust="spacingAndGlyphs">SUBCOMPONENTS</text>
<text x="708.5" y="601.00" font-size="8.8" fill="#8c8c8c" textLength="39.9" lengthAdjust="spacingAndGlyphs">TREE MAP</text>
<text x="11.5" y="635.0" font-size="7.2" fill="#444444" textLength="90" lengthAdjust="spacingAndGlyphs">SOURCE: ANDREW V. ABELA</text>
</svg>
</body></html>
